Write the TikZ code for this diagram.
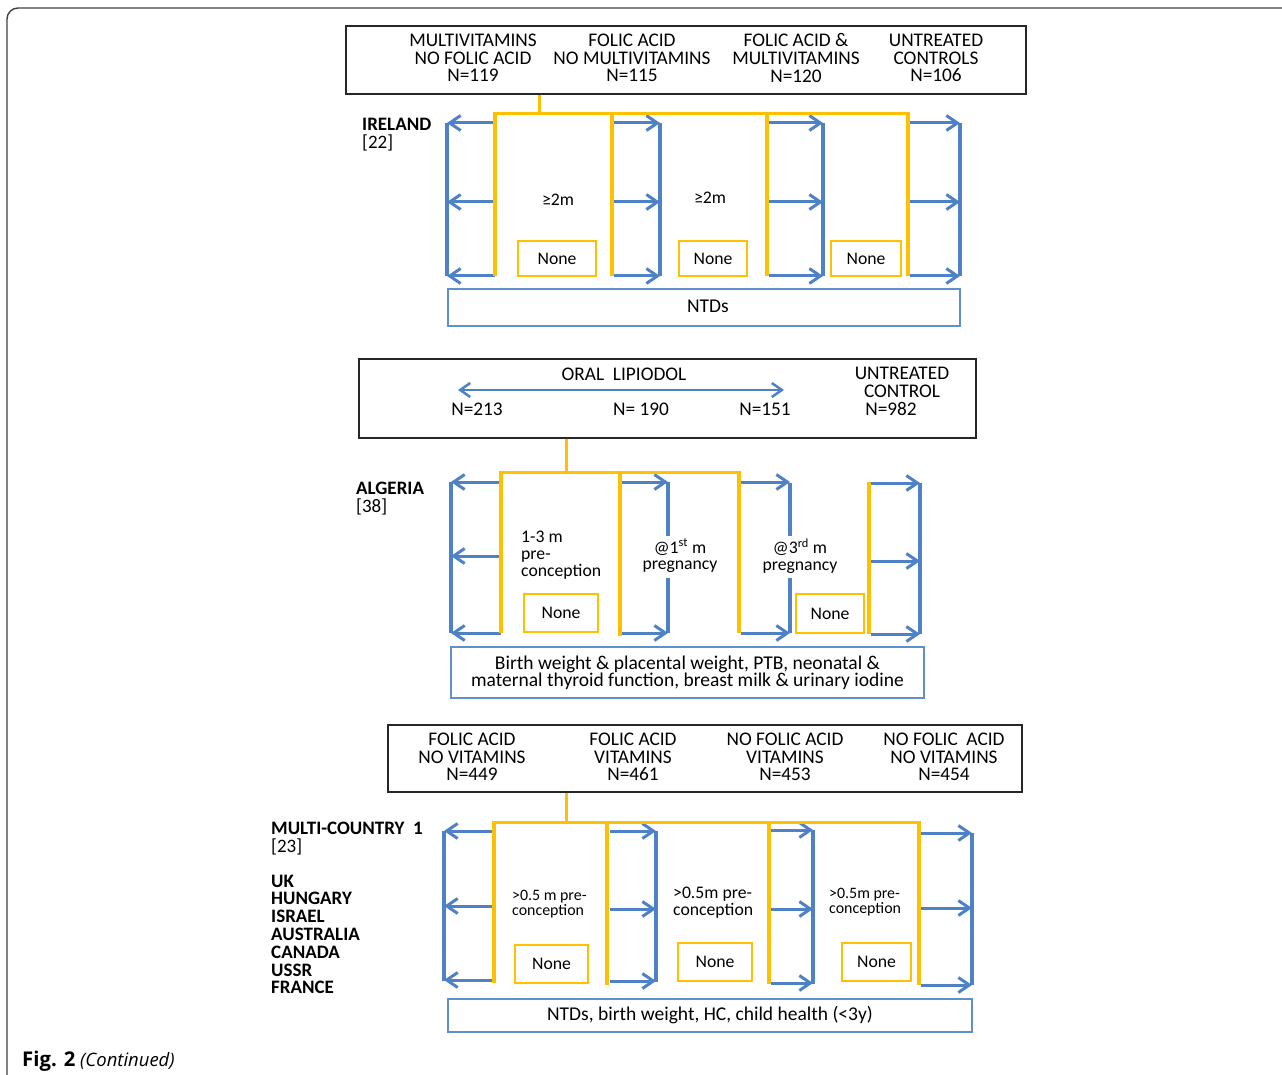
\documentclass[tikz,border=0pt]{standalone}
\usepackage{fontspec}
\setmainfont{Carlito}
\newfontfamily\capfont{Open Sans}
\usetikzlibrary{arrows.meta,positioning}
\definecolor{gold}{HTML}{FFC000}
\definecolor{steel}{HTML}{4F81C7}
\tikzset{
  yrail/.style={gold, line width=4pt},
  ybar/.style={gold, line width=3pt},
  brail/.style={steel, line width=4pt},
  barrow/.style={steel, line width=3pt, -{Straight Barb[length=11pt,width=15pt]}},
  grpbox/.style={draw=black!85, line width=1.2pt, inner sep=0},
  hdr/.style={align=center, inner sep=0, font=\fontsize{19.3}{17.6}\selectfont},
  txt/.style={align=left, inner sep=0, font=\fontsize{17.7}{16.8}\selectfont},
  nonebox/.style={draw=gold, line width=2.5pt, inner sep=0, font=\fontsize{17.7}{18}\selectfont},
  outbox/.style={draw=steel!90, line width=2.5pt, inner sep=0, align=center, font=\fontsize{19.5}{17.2}\selectfont},
  lbl/.style={align=left, inner sep=0, anchor=base west, font=\fontsize{19}{17.8}\selectfont},
}
\begin{document}
\begin{tikzpicture}[x=1pt,y=-1pt]
\useasboundingbox (0,0) rectangle (1282,1075);
% outer frame and caption
\draw[black!75, line width=1.4pt, rounded corners=11pt] (7,1090) -- (7,8) -- (1295,8);
\node[anchor=base west, inner sep=0, font=\capfont\fontsize{18.5}{20}\selectfont] (cap) at (22,1066) {{\fontsize{20.3}{20}\selectfont\textbf{Fig. 2}} \textit{(Continued)}};

% ---------------- Ireland
\node[grpbox, minimum width=680pt, minimum height=68pt] (irl) at (686,60) {};
\node[hdr] (irl1) at (473,58) {MULTIVITAMINS\\NO FOLIC ACID\\N=119};
\node[hdr] (irl2) at (632,58) {FOLIC ACID\\NO MULTIVITAMINS\\N=115};
\node[hdr] (irl3) at (796,58) {FOLIC ACID \&\\MULTIVITAMINS\\N=120};
\node[hdr] (irl4) at (936,58) {UNTREATED\\CONTROLS\\N=106};
\node[lbl] (irlname) at (362,131) {\textbf{IRELAND}};
\node[lbl] (irlref) at (362,149) {[22]};
\foreach \y in {123,202,276} {
  \draw[barrow] (495,\y) -- (447,\y);
  \draw[barrow] (614,\y) -- (660,\y);
  \draw[barrow] (769,\y) -- (823,\y);
  \draw[barrow] (910,\y) -- (960,\y);
}
\foreach \x in {447,660,823,960} \draw[brail] (\x,123) -- (\x,276);
\coordinate (irlstub) at (539,114);
\draw[ybar] (irl.south -| irlstub) -- (irlstub);
\draw[ybar] (495,114) -- (908,114);
\foreach \x in {495,612,767,908} \draw[yrail] (\x,112.5) -- (\x,276);
\node[txt] (irlt1) at (558,200) {≥2m};
\node[txt] (irlt2) at (710,198) {≥2m};
\node[nonebox, minimum width=78pt, minimum height=35pt] (irln1) at (557,258.5) {None};
\node[nonebox, minimum width=68pt, minimum height=35pt] (irln2) at (713,258.5) {None};
\node[nonebox, minimum width=70pt, minimum height=35pt] (irln3) at (866,258.5) {None};
\node[outbox, minimum width=512pt, minimum height=37pt] (irlout) at (704,307.5) {};
\node[outbox, draw=none] (irlouttxt) at (708,306) {NTDs};

% ---------------- Algeria
\node[grpbox, minimum width=617pt, minimum height=79pt] (alg) at (667.5,398.5) {};
\node[hdr] (algoral) at (624,374) {ORAL\ \ LIPIODOL};
\coordinate (lipL) at (458,390);
\coordinate (lipR) at (784,390);
\draw[steel, line width=2.5pt, {Straight Barb[length=10pt,width=14pt]}-{Straight Barb[length=10pt,width=14pt]}] (lipL) -- (lipR);
\node[hdr] (alg1) at (477,409) {N=213};
\node[hdr] (alg2) at (641,409) {N= 190};
\node[hdr] (alg3) at (765,409) {N=151};
\node[hdr] (alg4) at (902,382.2) {UNTREATED\\CONTROL};
\node[hdr] (alg5) at (891,409) {N=982};
\node[lbl] (algname) at (356,494) {\textbf{ALGERIA}};
\node[lbl] (algref) at (356,512) {[38]};
\foreach \y in {482,556,633} \draw[barrow] (501,\y) -- (451,\y);
\foreach \y in {482,633} {
  \draw[barrow] (622,\y) -- (668,\y);
  \draw[barrow] (741,\y) -- (790,\y);
}
\foreach \y in {483,561,634} \draw[barrow] (871,\y) -- (920,\y);
\draw[brail] (451,482) -- (451,633);
\draw[brail] (668,482) -- (668,536) (668,578) -- (668,633);
\draw[brail] (790,483) -- (790,536) (790,578) -- (790,633);
\draw[brail] (920,483) -- (920,634);
\coordinate (algstub) at (566,472);
\draw[ybar] (alg.south -| algstub) -- (algstub);
\draw[ybar] (501,472) -- (739,472);
\draw[yrail] (501,470.5) -- (501,633);
\draw[yrail] (620,470.5) -- (620,636);
\draw[yrail] (739,470.5) -- (739,633);
\draw[yrail] (869,482) -- (869,634);
\node[txt, anchor=west] (algt1) at (521,555) {1-3 m\\pre-\\conception};
\node[txt, align=center] (algt2) at (680,556) {@1\textsuperscript{st} m\\pregnancy};
\node[txt, align=center] (algt3) at (800,556) {@3\textsuperscript{rd} m\\pregnancy};
\node[nonebox, minimum width=74pt, minimum height=38pt] (algn1) at (561,613) {None};
\node[nonebox, minimum width=68pt, minimum height=39pt] (algn2) at (830,613.5) {None};
\node[outbox, minimum width=473pt, minimum height=51pt] (algout) at (687.5,672.5) {Birth weight \& placental weight, PTB, neonatal \&\\maternal thyroid function, breast milk \& urinary iodine};

% ---------------- Multi-country
\node[grpbox, minimum width=634pt, minimum height=67pt] (mc) at (705,758.5) {};
\node[hdr] (mc1) at (472,757) {FOLIC ACID\\NO VITAMINS\\N=449};
\node[hdr] (mc2) at (633,757) {FOLIC ACID\\VITAMINS\\N=461};
\node[hdr] (mc3) at (785,757) {NO FOLIC ACID\\VITAMINS\\N=453};
\node[hdr] (mc4) at (944,757) {NO FOLIC\ \ ACID\\NO VITAMINS\\N=454};
\node[lbl] (mcname) at (271,834) {\textbf{MULTI-COUNTRY\ \ 1}};
\node[lbl] (mcref) at (271,852) {[23]};
\node[lbl, anchor=north west] (mclist) at (271,874.5) {\textbf{UK}\\\textbf{HUNGARY}\\\textbf{ISRAEL}\\\textbf{AUSTRALIA}\\\textbf{CANADA}\\\textbf{USSR}\\\textbf{FRANCE}};
\draw[barrow] (494,831) -- (444,831);
\draw[barrow] (494,906) -- (444,906);
\draw[barrow] (494,980) -- (444,980);
\draw[barrow] (610,831) -- (656,831);
\draw[barrow] (610,909) -- (656,909);
\draw[barrow] (610,981) -- (656,981);
\draw[barrow] (771,830) -- (813,830);
\draw[barrow] (771,909) -- (813,909);
\draw[barrow] (771,983) -- (813,983);
\draw[barrow] (921,833) -- (972,833);
\draw[barrow] (921,908) -- (972,908);
\draw[barrow] (921,985) -- (972,985);
\draw[brail] (444,831) -- (444,981);
\draw[brail] (656,831) -- (656,982);
\draw[brail] (813,830) -- (813,984);
\draw[brail] (972,833) -- (972,985);
\coordinate (mcstub) at (566,822);
\draw[ybar] (mc.south -| mcstub) -- (mcstub);
\draw[ybar] (494,822) -- (919,822);
\draw[yrail] (494,820.5) -- (494,983);
\draw[yrail] (607,820.5) -- (607,985);
\draw[yrail] (769,820.5) -- (769,984);
\draw[yrail] (919,820.5) -- (919,985);
\node[txt, anchor=west, font=\fontsize{15.9}{15.5}\selectfont] (mct1) at (512,904) {>0.5 m pre-\\conception};
\node[txt, anchor=west] (mct2) at (673,903) {>0.5m pre-\\conception};
\node[txt, anchor=west, font=\fontsize{15.9}{15.5}\selectfont] (mct3) at (829,902) {>0.5m pre-\\conception};
\node[nonebox, minimum width=73pt, minimum height=38pt] (mcn1) at (551.5,964) {None};
\node[nonebox, minimum width=74pt, minimum height=38pt] (mcn2) at (715,962) {None};
\node[nonebox, minimum width=69pt, minimum height=38pt] (mcn3) at (876.5,962) {None};
\node[outbox, minimum width=524pt, minimum height=33pt] (mcout) at (710,1015.5) {NTDs, birth weight, HC, child health (<3y)};
\end{tikzpicture}
\end{document}
